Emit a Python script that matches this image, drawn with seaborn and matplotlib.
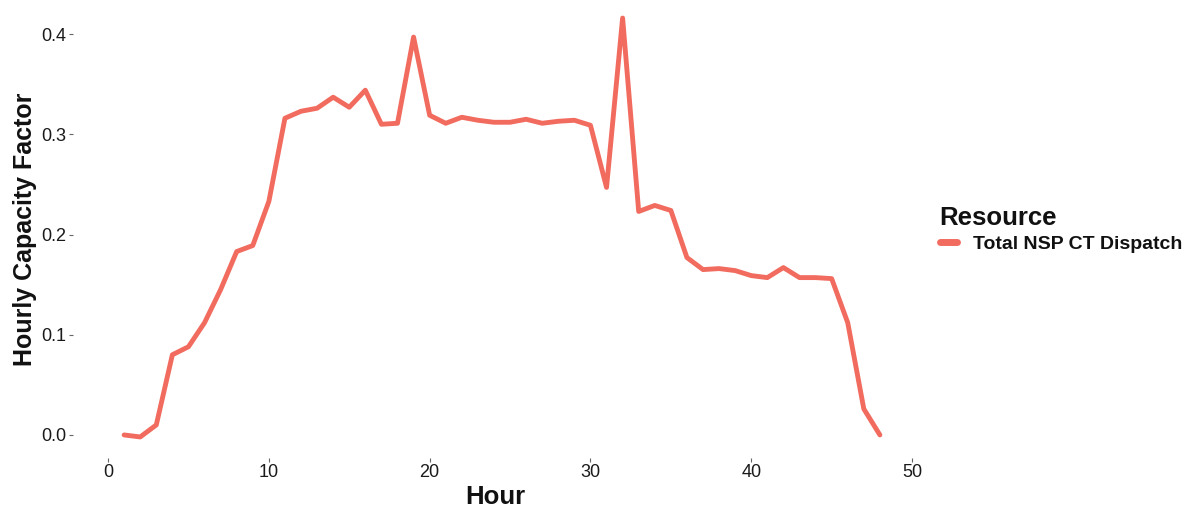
import pandas as pd
import matplotlib
matplotlib.use("Agg")
import matplotlib.pyplot as plt
import seaborn as sns

# hourly capacity factor
hours = list(range(1, 49))
capacity_factor = [
    0.000, -0.002, 0.010, 0.080, 0.088, 0.112, 0.145, 0.183, 0.189, 0.233,
    0.316, 0.323, 0.326, 0.337, 0.327, 0.344, 0.310, 0.311, 0.397, 0.319,
    0.311, 0.317, 0.314, 0.312, 0.312, 0.315, 0.311, 0.313, 0.314, 0.309,
    0.247, 0.416, 0.223, 0.229, 0.224, 0.177, 0.165, 0.166, 0.164, 0.159,
    0.157, 0.167, 0.157, 0.157, 0.156, 0.112, 0.026, 0.000,
]
resource = ["Total NSP CT Dispatch"] * len(hours)

LINE_COLOR = "#F26B5F"
W, H = 1185, 508

sns.set_style("white")
plt.rcParams["font.family"] = ["Liberation Sans", "DejaVu Sans"]

df = pd.DataFrame({"Hour": hours, "Hourly Capacity Factor": capacity_factor,
                   "Resource": resource})

fig = plt.figure(figsize=(W / 100, H / 100), dpi=100)
ax = fig.add_axes([73 / W, 50 / H, 845 / W, 458 / H])

sns.lineplot(data=df, x="Hour", y="Hourly Capacity Factor", hue="Resource",
             palette=[LINE_COLOR], linewidth=3.5, ax=ax)

ax.set_xlim(-2.18, 50.37)
ax.set_ylim(-0.023, 0.434)
ax.set_xticks([0, 10, 20, 30, 40, 50])
ax.set_yticks([0.0, 0.1, 0.2, 0.3, 0.4])
ax.set_yticklabels(["0.0", "0.1", "0.2", "0.3", "0.4"])
for s in ax.spines.values():
    s.set_visible(False)
ax.tick_params(axis="both", bottom=True, left=True, length=3, width=0.8,
               color="#666666", labelsize=13, labelcolor="#1a1a1a", pad=1.5)

ax.set_xlabel("Hour", fontsize=18.5, fontweight="bold", color="#111111", labelpad=3)
ax.set_ylabel("Hourly Capacity Factor", fontsize=18, fontweight="bold",
              color="#111111", labelpad=3)

leg = ax.legend(title="Resource", loc="upper left",
                bbox_to_anchor=(930 / W, 1 - 196 / H), bbox_transform=fig.transFigure,
                frameon=False, borderpad=0, handlelength=0.9, handletextpad=0.8,
                labelspacing=0.3, prop={"size": 14, "weight": "bold"})
leg.get_title().set_fontsize(18.5)
leg.get_title().set_fontweight("bold")
leg.get_title().set_color("#111111")
leg._legend_box.align = "left"
for t in leg.get_texts():
    t.set_color("#111111")
for line in leg.get_lines():
    line.set_linewidth(5)

fig.savefig("out.png", dpi=100)
